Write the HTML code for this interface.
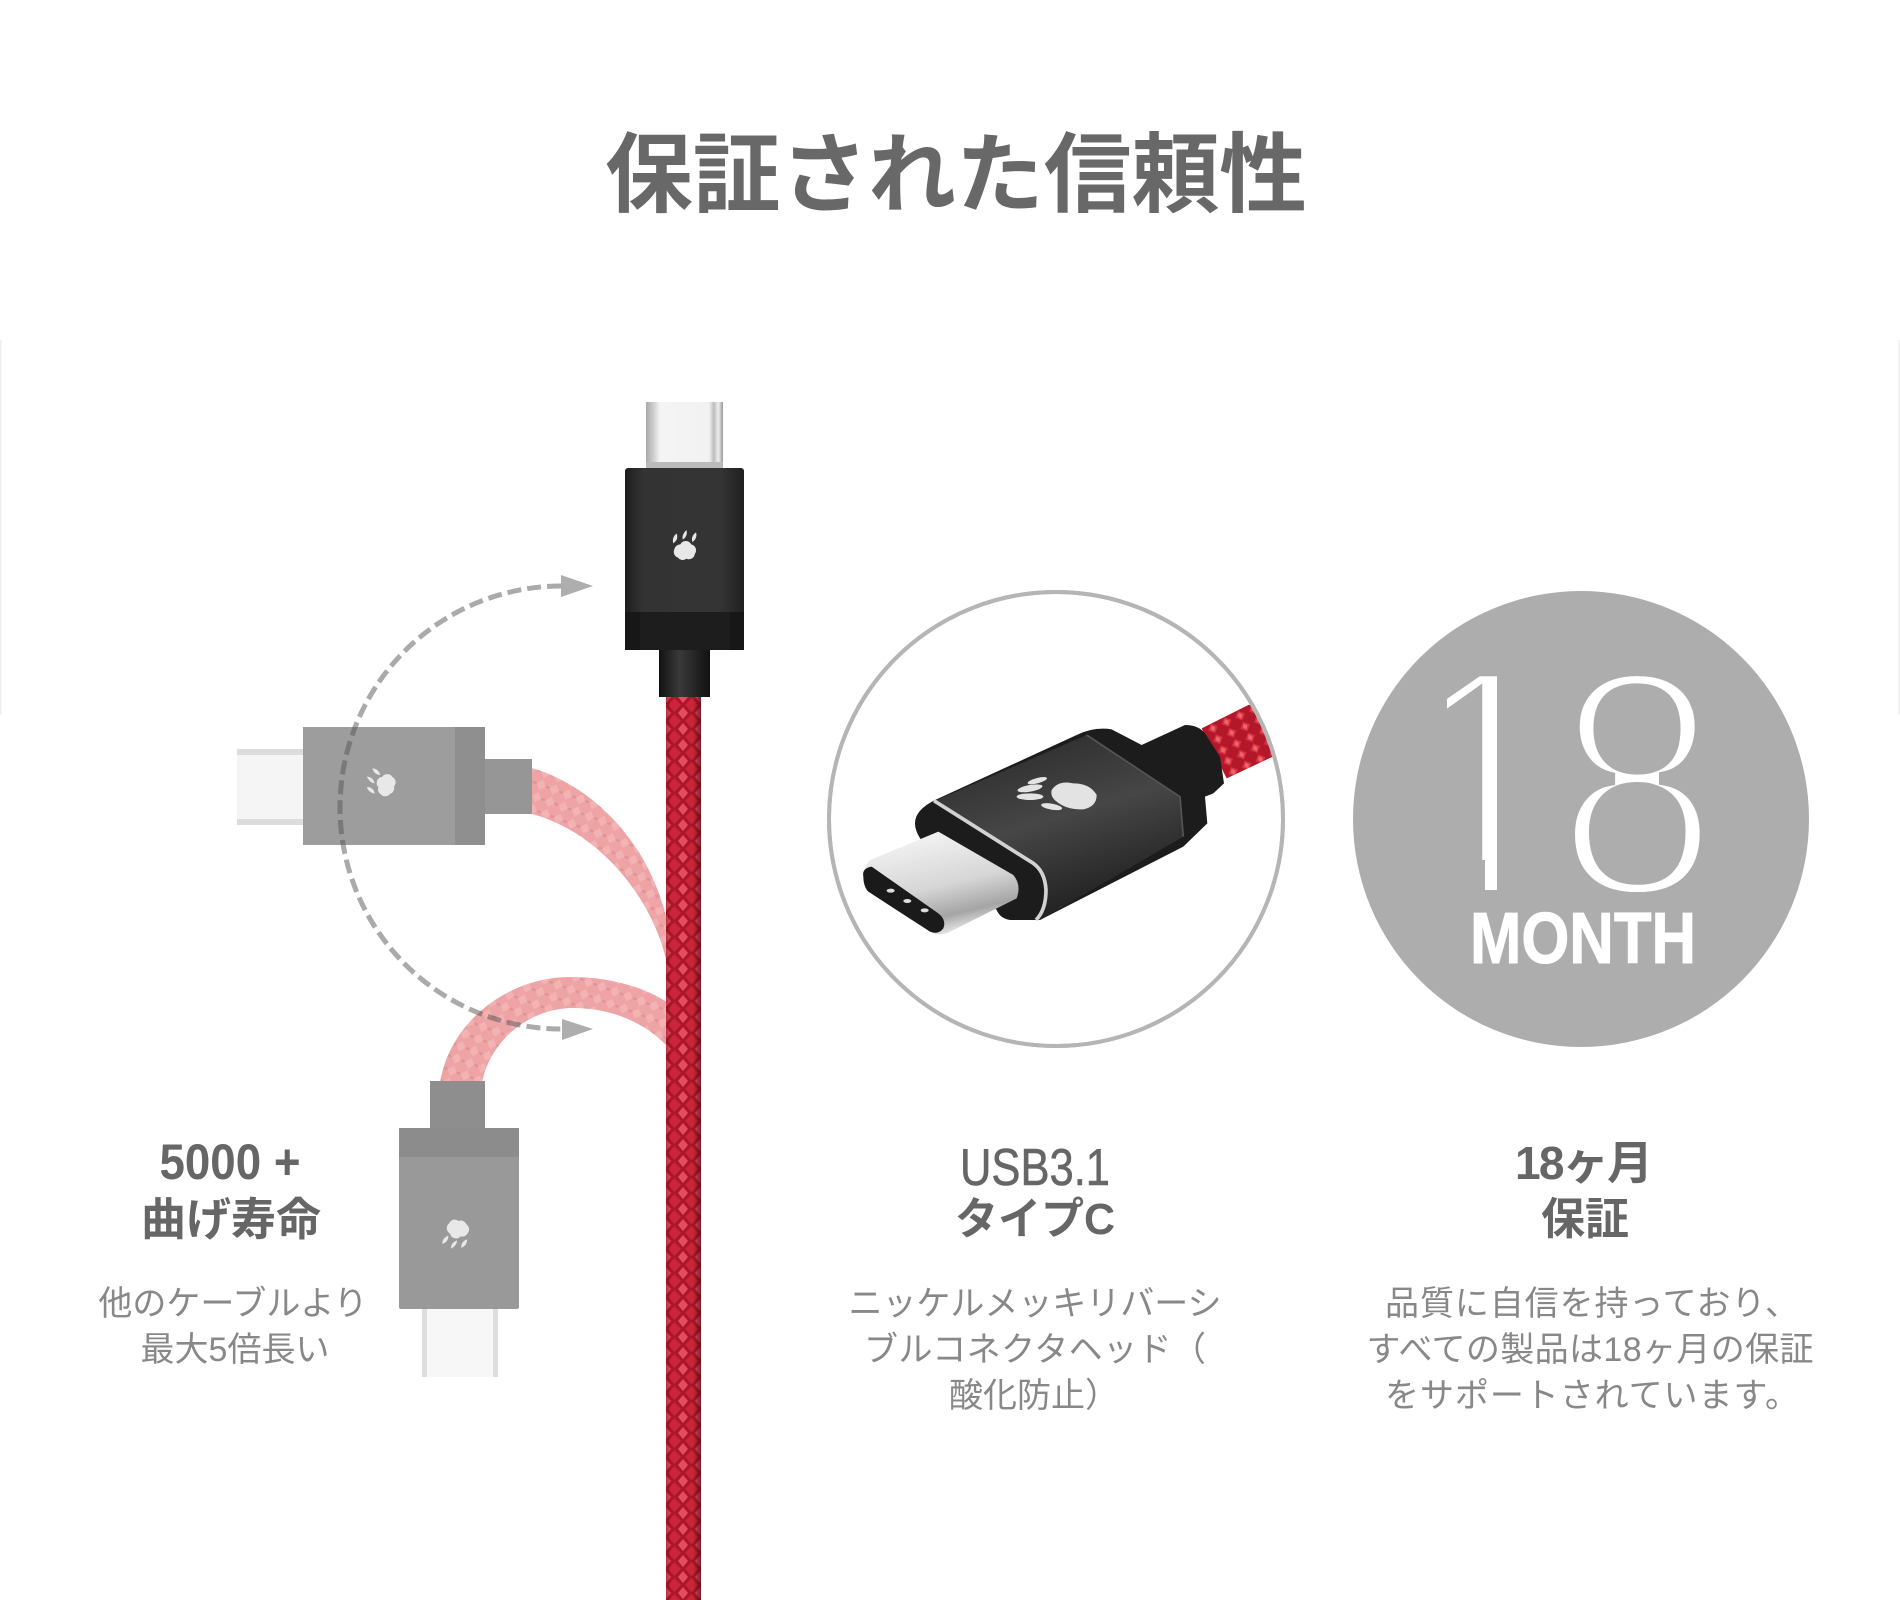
<!DOCTYPE html>
<html lang="ja"><head><meta charset="utf-8"><title>保証された信頼性</title>
<style>html,body{margin:0;padding:0;background:#fff}svg{display:block}
text{font-family:"Liberation Sans","Noto Sans CJK JP",sans-serif}
.h{font-weight:700;fill:#666;text-anchor:middle}
.b{fill:#888;font-size:34px;text-anchor:middle}
</style></head><body>
<svg width="1900" height="1600" viewBox="0 0 1900 1600" xmlns="http://www.w3.org/2000/svg">
<defs>
<pattern id="br" width="17" height="16" patternUnits="userSpaceOnUse" x="666" y="697">
<rect width="17" height="16" fill="#a8182a"/>
<path d="M8.500 1L15 8 8.500 15 2 8Z" fill="#cc2438"/>
<path d="M0 -6L5 0 0 6-5 0ZM17 -6L22 0 17 6 12 0ZM0 10L5 16 0 22-5 16ZM17 10L22 16 17 22 12 16Z" fill="#e84a60"/>
</pattern>
<pattern id="pk" width="14" height="13" patternUnits="userSpaceOnUse" patternTransform="rotate(20)">
<rect width="14" height="13" fill="#eea3a5"/>
<path d="M7 1L12 6.500 7 12 2 6.500Z" fill="#f3b3b4"/>
<path d="M0 5L3 6.500 0 8-3 6.500ZM14 5L17 6.500 14 8 11 6.500Z" fill="#dd9496"/>
</pattern>
<pattern id="rd2" width="45" height="36" patternUnits="userSpaceOnUse" patternTransform="rotate(-25)">
<rect width="45" height="36" fill="#b3172a"/>
<path d="M22 2L38 18 22 34 6 18Z" fill="#d8303f"/>
<path d="M22 8L30 18 22 28 14 18Z" fill="#ea6570"/>
</pattern>
<linearGradient id="edge" x1="0" x2="1" y1="0" y2="0">
<stop offset="0" stop-color="#7a0a14" stop-opacity=".4"/><stop offset=".15" stop-color="#7a0a14" stop-opacity="0"/>
<stop offset=".78" stop-color="#5a0a12" stop-opacity="0"/><stop offset="1" stop-color="#4a0a10" stop-opacity=".7"/></linearGradient>
<linearGradient id="metalV" x1="0" x2="1" y1="0" y2="0">
<stop offset="0" stop-color="#a8a8a8"/><stop offset=".1" stop-color="#cfcfcf"/><stop offset=".18" stop-color="#f4f4f4"/>
<stop offset=".82" stop-color="#f2f2f2"/><stop offset=".88" stop-color="#bdbdbd"/><stop offset=".94" stop-color="#eee"/><stop offset="1" stop-color="#999"/></linearGradient>
<linearGradient id="blk" x1="0" x2="1" y1="0" y2="0">
<stop offset="0" stop-color="#1e1e1e"/><stop offset=".15" stop-color="#333"/><stop offset=".8" stop-color="#343434"/><stop offset="1" stop-color="#202020"/></linearGradient>
<linearGradient id="rel" x1="0" x2="1" y1="0" y2="0">
<stop offset="0" stop-color="#111"/><stop offset=".4" stop-color="#3a3a3a"/><stop offset="1" stop-color="#111"/></linearGradient>
<linearGradient id="plug" x1=".35" x2=".65" y1=".1" y2=".95">
<stop offset="0" stop-color="#efefef"/><stop offset=".5" stop-color="#d6d6d6"/><stop offset=".82" stop-color="#a5a5a5"/><stop offset="1" stop-color="#e4e4e4"/></linearGradient>
<linearGradient id="body2" x1=".3" x2=".7" y1="0" y2="1">
<stop offset="0" stop-color="#2c2c2c"/><stop offset=".45" stop-color="#464646"/><stop offset="1" stop-color="#1a1a1a"/></linearGradient>
<symbol id="paw" viewBox="0 0 30 30" overflow="visible">
<path d="M7 16a5 5 0 0 1 5-4 5 5 0 0 1 9 0 5 5 0 0 1 3 8 5 5 0 0 1-7 4 5 5 0 0 1-7-1 5 5 0 0 1-3-7Z" fill="#e8e8e8"/>
<path d="M6 11C5 7 7 4 9 3 10 7 9 9 6 11ZM14 8C13 5 15 2 17 0 18 3 17 6 14 8ZM22 10C21 7 22 4 25 2 26 5 25 8 22 10Z" fill="#e8e8e8"/>
</symbol>
<clipPath id="cc"><circle cx="1056" cy="819" r="225"/></clipPath>
<clipPath id="one"><path d="M1447 660H1497V892H1485V860H1447Z"/></clipPath>
</defs>
<rect width="1900" height="1600" fill="#fff"/>
<rect x="0" y="340" width="1.500" height="375" fill="#eee"/>
<rect x="1898.500" y="340" width="1.500" height="375" fill="#eee"/>

<!-- title -->
<text x="956" y="205" font-size="87" font-weight="700" fill="#686868" text-anchor="middle" textLength="702" lengthAdjust="spacingAndGlyphs">保証された信頼性</text>

<!-- pink ghost cables -->
<path d="M532 768C590 785 650 840 668 925V968C655 900 600 832 532 814Z" fill="url(#pk)"/>
<path d="M440 1083C450 1020 510 977 570 977 615 977 650 990 668 1003V1047C645 1022 610 1008 573 1008 530 1008 490 1040 482 1083Z" fill="url(#pk)"/>

<!-- left ghost connector -->
<rect x="237" y="749" width="66" height="76" fill="#f5f5f5"/>
<rect x="237" y="749" width="66" height="6" fill="#dcdcdc"/>
<rect x="237" y="819" width="66" height="6" fill="#dcdcdc"/>
<rect x="303" y="727" width="182" height="118" fill="#9d9d9d"/>
<rect x="455" y="727" width="30" height="118" fill="#8f8f8f"/>
<rect x="485" y="759" width="47" height="55" fill="#969696"/>
<use href="#paw" x="365" y="767" width="36" height="36" transform="rotate(-70 383 785)"/>

<!-- lower ghost connector -->
<rect x="422" y="1309" width="76" height="68" fill="#f7f7f7"/>
<rect x="422" y="1309" width="5" height="68" fill="#ddd"/>
<rect x="493" y="1309" width="5" height="68" fill="#ddd"/>
<rect x="399" y="1128" width="120" height="181" rx="2" fill="#999"/>
<rect x="399" y="1128" width="120" height="29" fill="#8c8c8c"/>
<rect x="430" y="1081" width="55" height="47" fill="#8e8e8e"/>
<use href="#paw" x="440" y="1214" width="36" height="36" transform="rotate(195 458 1232)"/>

<!-- main cable -->
<rect x="666" y="697" width="35" height="903" fill="url(#br)"/>
<rect x="666" y="697" width="35" height="903" fill="url(#edge)"/>

<!-- dashed arc -->
<path d="M561 586A220 220 0 0 0 562 1029" fill="none" stroke="#555" stroke-opacity=".5" stroke-width="5" stroke-dasharray="14 6"/>
<path d="M561 575L593 586 561 597Z" fill="#aeaeae"/>
<path d="M562 1019L593 1029 562 1040Z" fill="#aeaeae"/>

<!-- top connector -->
<rect x="646" y="402" width="77" height="66" fill="url(#metalV)"/>
<rect x="646" y="462" width="77" height="6" fill="#bbb"/>
<rect x="625" y="468" width="119" height="182" rx="3" fill="url(#blk)"/>
<rect x="625" y="612" width="119" height="38" fill="#171717"/>
<rect x="640" y="612" width="90" height="38" fill="#1d1d1d"/>
<rect x="659" y="650" width="51" height="47" fill="url(#rel)"/>
<use href="#paw" x="666" y="530" width="36" height="36"/>

<!-- detail circle -->
<circle cx="1056" cy="819" r="227" fill="#fff" stroke="#b5b5b5" stroke-width="4"/>
<g clip-path="url(#cc)"><g transform="translate(800 570) scale(.33333)">
<path d="M1205 475L1345 405 1440 400 1440 550 1280 625Z" fill="url(#rd2)"/>
<path d="M345 760Q345 720 405 690L830 495Q880 470 935 478L1025 525 1155 465Q1195 465 1215 490L1260 560 1272 640 1240 670 1215 680 1222 760 1150 830 720 1050H630Q600 1045 590 1020L400 850Q345 800 345 760Z" fill="#1c1c1c"/>
<path d="M410 690L860 495 1140 680 1150 800 720 1050Q745 960 715 890Z" fill="url(#body2)"/>
<path d="M860 495L1140 680 1150 800" fill="none" stroke="#555" stroke-width="5"/>
<path d="M402 692L700 880Q735 905 738 960 738 1020 708 1050" fill="none" stroke="#d2d2d2" stroke-width="11"/>
<path d="M210 870L415 785 640 915Q665 945 650 985L440 1090Q415 1095 400 1090L200 960Q180 900 210 870Z" fill="url(#plug)"/>
<path d="M190 920Q185 895 215 890L415 1030Q440 1050 430 1075 415 1095 390 1085L205 965Q190 950 190 920Z" fill="#1a1a1a"/>
<ellipse cx="272" cy="962" rx="12" ry="6" fill="#ddd"/><ellipse cx="322" cy="993" rx="12" ry="6" fill="#ddd"/><ellipse cx="374" cy="1021" rx="12" ry="6" fill="#ddd"/>
<g fill="#e3e3e3"><path d="M755 660Q775 630 820 640 870 640 890 675 890 710 850 718 800 720 770 695Q750 680 755 660Z"/>
<ellipse cx="690" cy="655" rx="38" ry="10" transform="rotate(-10 690 655)"/><ellipse cx="690" cy="680" rx="40" ry="10"/><ellipse cx="755" cy="710" rx="32" ry="9" transform="rotate(10 755 710)"/><ellipse cx="712" cy="632" rx="30" ry="8" transform="rotate(-15 712 632)"/></g>
</g></g>
<circle cx="1056" cy="819" r="227" fill="none" stroke="#b5b5b5" stroke-width="4"/>

<!-- 18 month -->
<circle cx="1581" cy="819" r="228" fill="#adadad"/>
<g clip-path="url(#one)"><text x="1392" y="897" font-size="331" fill="#fff" stroke="#adadad" stroke-width="14">1</text></g>
<text transform="translate(1556 896) scale(.9 1)" font-size="325" fill="#fff" stroke="#adadad" stroke-width="14">8</text>
<text x="1470" y="963" font-size="72" font-weight="700" fill="#fff" stroke="#fff" stroke-width="1" textLength="226" lengthAdjust="spacingAndGlyphs">MONTH</text>

<!-- left text -->
<text class="h" x="230" y="1179" font-size="50" textLength="141" lengthAdjust="spacingAndGlyphs">5000 +</text>
<text class="h" x="231" y="1235" font-size="45">曲げ寿命</text>
<text class="b" x="233" y="1315">他のケーブルより</text>
<text class="b" x="235" y="1361">最大5倍長い</text>

<!-- middle text -->
<text x="1035" y="1185" font-size="52" fill="#666" text-anchor="middle" stroke="#666" stroke-width=".6" textLength="150" lengthAdjust="spacingAndGlyphs">USB3.1</text>
<text class="h" x="1035" y="1234" font-size="44" font-weight="500" textLength="160" lengthAdjust="spacingAndGlyphs">タイプC</text>
<text class="b" x="1035" y="1315" textLength="373" lengthAdjust="spacing">ニッケルメッキリバーシ</text>
<text class="b" x="1035" y="1361" textLength="342" lengthAdjust="spacing">ブルコネクタヘッド（</text>
<text class="b" x="1034" y="1407">酸化防止）</text>

<!-- right text -->
<text class="h" x="1584" y="1179" font-size="46" textLength="138" lengthAdjust="spacing">18ヶ月</text>
<text class="h" x="1585" y="1234" font-size="44">保証</text>
<text class="b" x="1592" y="1315" textLength="414" lengthAdjust="spacing">品質に自信を持っており、</text>
<text class="b" x="1590" y="1361" textLength="447" lengthAdjust="spacing">すべての製品は18ヶ月の保証</text>
<text class="b" x="1592" y="1407" textLength="414" lengthAdjust="spacing">をサポートされています。</text>
</svg>
</body></html>
